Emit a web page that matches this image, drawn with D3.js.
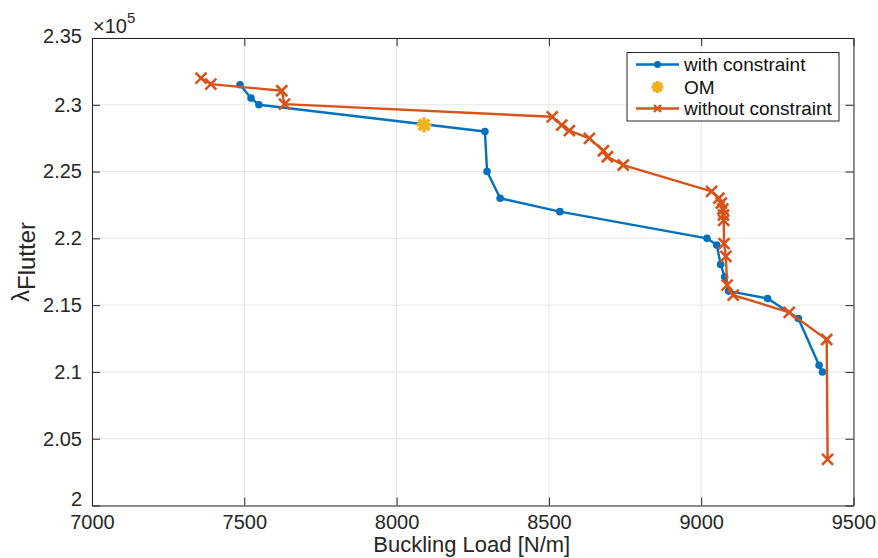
<!DOCTYPE html>
<html><head><meta charset="utf-8">
<script src="https://cdn.jsdelivr.net/npm/d3@7"></script>
<style>body{margin:0;background:#fff}svg{display:block;font-family:"Liberation Sans",Arial,sans-serif}</style>
</head><body><svg id="c" width="878" height="558"></svg>
<script>
const xTicks = [7000, 7500, 8000, 8500, 9000, 9500];
const yTicks = [2, 2.05, 2.1, 2.15, 2.2, 2.25, 2.3, 2.35];
const yTickLabels = ["2", "2.05", "2.1", "2.15", "2.2", "2.25", "2.3", "2.35"];
const withX = [7486, 7522, 7548, 8290, 8297, 8340, 8536, 9019, 9051, 9064, 9077, 9090, 9218, 9319, 9387, 9398];
const withY = [2.315, 2.305, 2.300, 2.280, 2.250, 2.230, 2.220, 2.200, 2.195, 2.1805, 2.171, 2.1605, 2.155, 2.140, 2.105, 2.100];
const withoutX = [7358, 7390, 7623, 7632, 8511, 8542, 8567, 8633, 8679, 8692, 8744, 9034, 9058, 9066, 9071, 9073, 9074, 9075, 9081, 9085, 9105, 9289, 9412, 9415];
const withoutY = [2.320, 2.3155, 2.3105, 2.3005, 2.291, 2.2848, 2.2806, 2.2749, 2.2656, 2.2611, 2.2549, 2.2352, 2.2300, 2.2265, 2.222, 2.2175, 2.2135, 2.196, 2.1865, 2.165, 2.1575, 2.1446, 2.1243, 2.0345];
const omX = [8090];
const omY = [2.285];
const legendLabels = ["with constraint", "OM", "without constraint"];
const colors = {blue: "#0072BD", red: "#D95319", yellow: "#EDB120"};

const svg = d3.select("#c");
const L = 92, R = 853.5, T = 38, B = 505.5;
const x = d3.scaleLinear().domain([7000, 9500]).range([L, R]);
const y = d3.scaleLinear().domain([2, 2.35]).range([B, T]);
const axisCol = "#262626";

// grid
const g = svg.append("g");
g.selectAll(".gx").data(xTicks).join("line")
  .attr("x1", d => x(d)).attr("x2", d => x(d)).attr("y1", T).attr("y2", B)
  .attr("stroke", "#e6e6e6").attr("stroke-width", 1);
g.selectAll(".gy").data(yTicks).join("line")
  .attr("y1", d => y(d)).attr("y2", d => y(d)).attr("x1", L).attr("x2", R)
  .attr("stroke", "#e6e6e6").attr("stroke-width", 1);

// axes
const fmtY = d => yTickLabels[yTicks.indexOf(d)];
const axB = svg.append("g").attr("transform", `translate(0,${B})`)
  .call(d3.axisBottom(x).tickValues(xTicks).tickSizeInner(-8).tickSizeOuter(0).tickPadding(9).tickFormat(d3.format("d")));
const axT = svg.append("g").attr("transform", `translate(0,${T})`)
  .call(d3.axisTop(x).tickValues(xTicks).tickSizeInner(-8).tickSizeOuter(0).tickFormat(""));
const axL = svg.append("g").attr("transform", `translate(${L},0)`)
  .call(d3.axisLeft(y).tickValues(yTicks).tickSizeInner(-8).tickSizeOuter(0).tickPadding(10).tickFormat(fmtY));
const axR = svg.append("g").attr("transform", `translate(${R},0)`)
  .call(d3.axisRight(y).tickValues(yTicks).tickSizeInner(-8).tickSizeOuter(0).tickFormat(""));
[axB, axT, axL, axR].forEach(a => {
  a.selectAll("path").attr("stroke", axisCol).attr("stroke-width", 1);
  a.selectAll("line").attr("stroke", axisCol).attr("stroke-width", 1);
  a.selectAll("text").attr("fill", axisCol).attr("font-size", 20).attr("font-family", "Liberation Sans, Arial, sans-serif");
});
// bottom y label sits raised above the x tick labels
axL.selectAll(".tick text").filter(d => d === 2).attr("dy", "0").attr("y", 0);
axL.selectAll(".tick text").filter(d => d === 2.35).attr("dy", "0.2em");

// exponent
const ex = svg.append("text").attr("x", 93).attr("y", 33).attr("fill", axisCol).attr("font-size", 20);
ex.append("tspan").text("×10");
ex.append("tspan").attr("dy", -10).attr("font-size", 15).text("5");

// labels
svg.append("text").attr("x", (L + R) / 2 - 1).attr("y", 552).attr("text-anchor", "middle")
  .attr("fill", axisCol).attr("font-size", 22).text("Buckling Load [N/m]");
const yl = svg.append("text").attr("transform", `translate(29,302) rotate(-90)`)
  .attr("text-anchor", "start").attr("fill", axisCol).attr("font-size", 24);
yl.append("tspan").text("λ");
yl.append("tspan").attr("dy", 6).attr("font-size", 24).text("Flutter");

// data
const withData = withX.map((d, i) => [d, withY[i]]);
const withoutData = withoutX.map((d, i) => [d, withoutY[i]]);
const line = d3.line().x(d => x(d[0])).y(d => y(d[1]));
const plot = svg.append("g");

plot.append("path").datum(withData).attr("d", line).attr("fill", "none")
  .attr("stroke", colors.blue).attr("stroke-width", 2.4).attr("stroke-linejoin", "round");
plot.selectAll(".bd").data(withData).join("circle")
  .attr("cx", d => x(d[0])).attr("cy", d => y(d[1])).attr("r", 3.8).attr("fill", colors.blue);

// OM
function asterisk(sel, cx, cy, s, col, w) {
  [0, 45, 90, 135].forEach(a => {
    const r = a * Math.PI / 180;
    sel.append("line").attr("x1", cx - s * Math.cos(r)).attr("y1", cy - s * Math.sin(r))
      .attr("x2", cx + s * Math.cos(r)).attr("y2", cy + s * Math.sin(r))
      .attr("stroke", col).attr("stroke-width", w);
  });
}
omX.forEach((d, i) => asterisk(plot, x(d), y(omY[i]), 7.5, colors.yellow, 3.6));

plot.append("path").datum(withoutData).attr("d", line).attr("fill", "none")
  .attr("stroke", colors.red).attr("stroke-width", 2.4).attr("stroke-linejoin", "round");
function cross(sel, cx, cy, s, col, w) {
  sel.append("line").attr("x1", cx - s).attr("y1", cy - s).attr("x2", cx + s).attr("y2", cy + s)
    .attr("stroke", col).attr("stroke-width", w);
  sel.append("line").attr("x1", cx - s).attr("y1", cy + s).attr("x2", cx + s).attr("y2", cy - s)
    .attr("stroke", col).attr("stroke-width", w);
}
withoutData.forEach(d => cross(plot, x(d[0]), y(d[1]), 5.5, colors.red, 2.6));

// legend
const lg = svg.append("g");
lg.append("rect").attr("x", 627).attr("y", 52.5).attr("width", 212).attr("height", 68.5)
  .attr("fill", "#fff").attr("stroke", axisCol).attr("stroke-width", 1);
const rowsY = [64.5, 87, 108.5];
lg.append("line").attr("x1", 636).attr("x2", 679).attr("y1", rowsY[0]).attr("y2", rowsY[0])
  .attr("stroke", colors.blue).attr("stroke-width", 2.4);
lg.append("circle").attr("cx", 657.5).attr("cy", rowsY[0]).attr("r", 3.5).attr("fill", colors.blue);
asterisk(lg, 657.5, rowsY[1], 6, colors.yellow, 3.4);
lg.append("line").attr("x1", 636).attr("x2", 679).attr("y1", rowsY[2]).attr("y2", rowsY[2])
  .attr("stroke", colors.red).attr("stroke-width", 2.4);
cross(lg, 657.5, rowsY[2], 3.5, colors.red, 2.4);
lg.selectAll(".lt").data(legendLabels).join("text")
  .attr("x", 684).attr("y", (d, i) => rowsY[i] + 6.5).attr("fill", "#111")
  .attr("font-size", 19).text(d => d);
</script></body></html>
